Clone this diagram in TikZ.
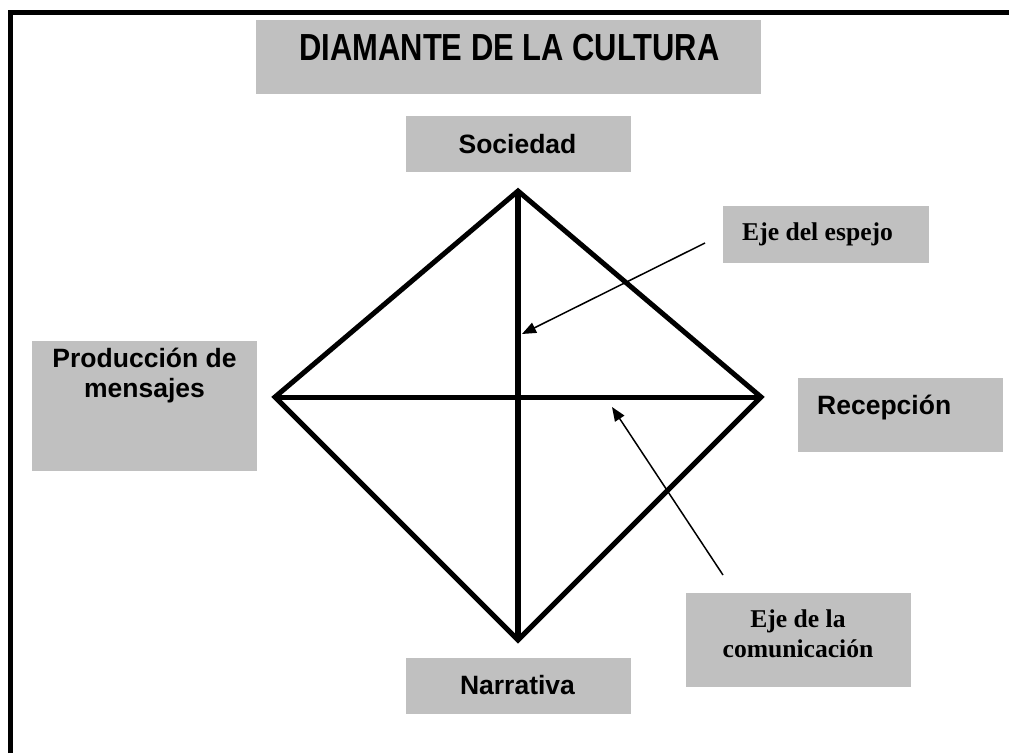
\documentclass[tikz,border=0pt]{standalone}
\usepackage{fontspec}
\setmainfont{Liberation Sans}
\newfontfamily\serifbf{Liberation Serif}
\usetikzlibrary{arrows.meta}
\definecolor{boxgray}{RGB}{192,192,192}
\begin{document}
\begin{tikzpicture}[x=1pt,y=-1pt,
  box/.style={fill=boxgray, draw=none, inner sep=0pt, outer sep=0pt},
  lab/.style={font=\fontsize{26.5}{30}\selectfont\bfseries, anchor=base, inner sep=0pt},
  slab/.style={font=\fontsize{25.6}{30}\selectfont\serifbf\bfseries, anchor=base, inner sep=0pt},
  edge/.style={line width=5pt, line join=miter},
  ptr/.style={line width=1.5pt, -{Triangle[length=14pt,width=11pt]}}]
\useasboundingbox (0,0) rectangle (1009,753);
\fill[white] (0,0) rectangle (1009,753);
% frame
\coordinate (fb) at (10.5,753);
\coordinate (fc) at (10.5,12.5);
\coordinate (fr) at (1009,12.5);
\draw[line width=5.5pt, line join=miter] (fb) -- (fc) -- (fr);
% boxes
\node[box, minimum width=505pt, minimum height=74pt] (titlebox) at (508.5,57) {};
\node[box, minimum width=225pt, minimum height=56pt] (socbox) at (518.5,144) {};
\node[box, minimum width=206pt, minimum height=57pt] (espbox) at (826,234.5) {};
\node[box, minimum width=225pt, minimum height=130pt] (prodbox) at (144.5,406) {};
\node[box, minimum width=205pt, minimum height=74pt] (recbox) at (900.5,415) {};
\node[box, minimum width=225pt, minimum height=94pt] (combox) at (798.5,640) {};
\node[box, minimum width=225pt, minimum height=56pt] (narbox) at (518.5,686) {};
% texts
\node[anchor=base, inner sep=0pt, font=\fontsize{37.7}{40}\selectfont\bfseries] (title) at (509.5,60) {\scalebox{0.82}[1]{DIAMANTE DE LA CULTURA}};
\node[lab] (soc) at (517.5,153) {Sociedad};
\node[slab, anchor=base west] (esp) at (742,240) {Eje del espejo};
\node[lab, align=center] (prod) at (144.5,397) {Producción de\\mensajes};
\node[lab, anchor=base west] (rec) at (817,414) {Recepción};
\node[slab, align=center] (com) at (798,657) {Eje de la\\comunicación};
\node[lab] (nar) at (517.5,694) {Narrativa};
% diamond
\coordinate (dT) at (518,191);
\coordinate (dR) at (761,397);
\coordinate (dB) at (518,640);
\coordinate (dL) at (275,397);
\draw[edge] (dT) -- (dR) -- (dB) -- (dL) -- cycle;
\draw[line width=6.5pt] (dT) -- (dB);
\draw[line width=5pt] (dL) -- (dR);
% arrows
\coordinate (a1s) at (705,243);
\coordinate (a1e) at (522,334);
\draw[ptr] (a1s) -- (a1e);
\coordinate (a2s) at (723,575);
\coordinate (a2e) at (612,407);
\draw[ptr] (a2s) -- (a2e);
\end{tikzpicture}
\end{document}
